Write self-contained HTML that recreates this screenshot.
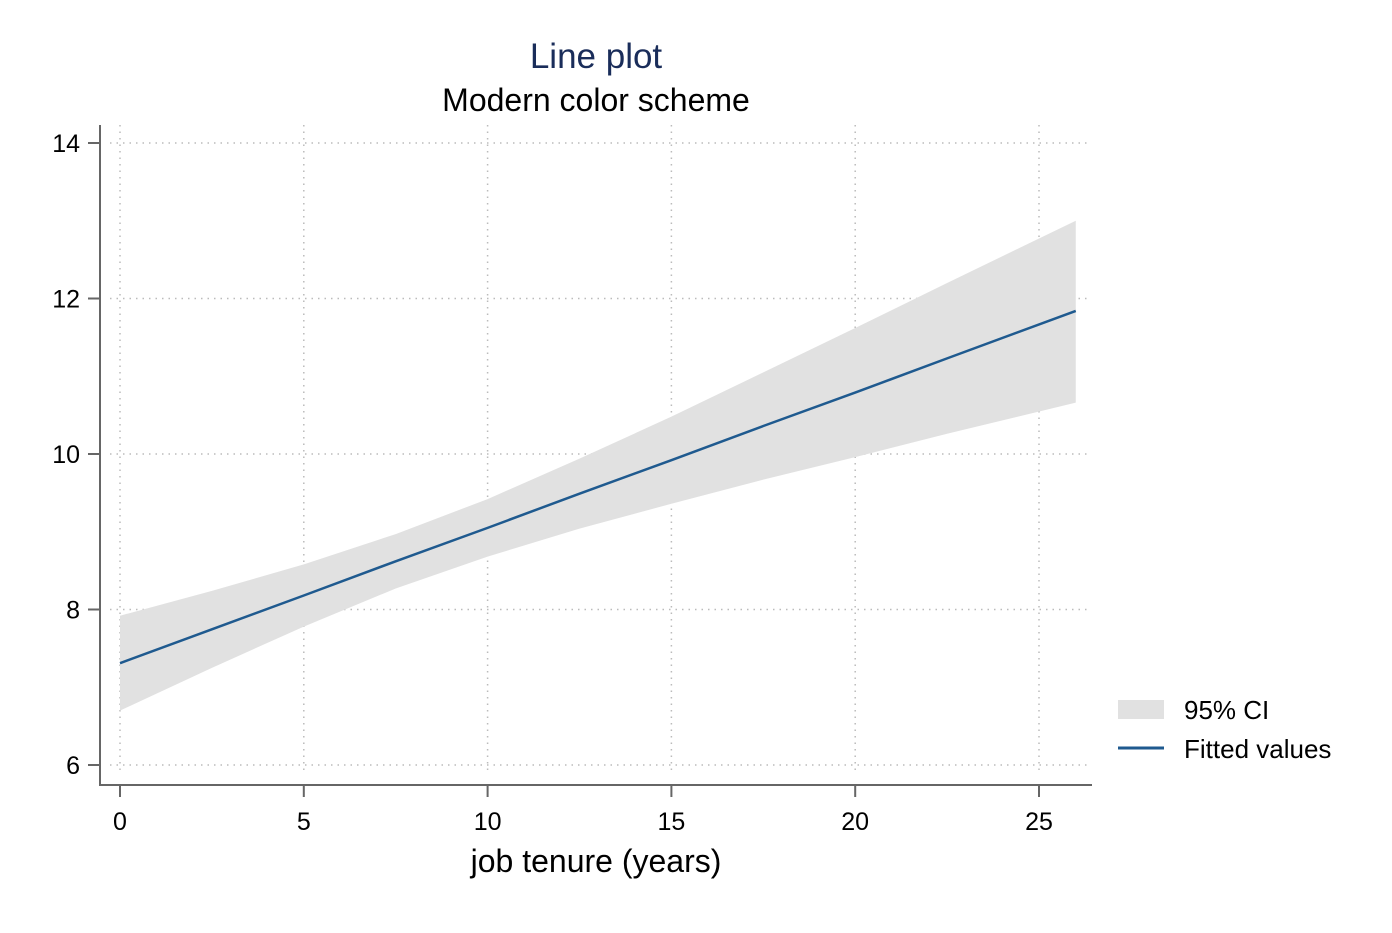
<!DOCTYPE html>
<html><head><meta charset="utf-8"><style>
body{margin:0;background:#fff;}
svg text{font-family:"Liberation Sans",Arial,sans-serif;}
</style></head><body>
<svg id="chart" width="1392" height="928" xmlns="http://www.w3.org/2000/svg">
<rect width="1392" height="928" fill="#fff"/>
<text x="596" y="68" text-anchor="middle" font-size="35" fill="#1a2d5a">Line plot</text>
<text x="596" y="111" text-anchor="middle" font-size="32" fill="#000">Modern color scheme</text>
<g id="grid"></g><g id="marks"></g><g id="axes"></g>
<g>
<rect x="1118" y="700" width="46" height="19" fill="#e1e1e1"/>
<text x="1184" y="719" font-size="26">95% CI</text>
<line x1="1118" y1="748" x2="1164" y2="748" stroke="#1f5a8f" stroke-width="3"/>
<text x="1184" y="758" font-size="26">Fitted values</text>
</g>
<text x="596" y="872" text-anchor="middle" font-size="32">job tenure (years)</text>
</svg>
<script>
const xs=[0,2.5,5,7.5,10,12.5,15,17.5,20,22.5,26];
const fitted=[7.31,7.745,8.18,8.62,9.05,9.49,9.92,10.36,10.79,11.23,11.84];
const upper=[7.92,8.24,8.58,8.97,9.42,9.94,10.48,11.05,11.62,12.20,13.0];
const lower=[6.70,7.25,7.78,8.27,8.68,9.04,9.36,9.67,9.96,10.26,10.66];
const xTicks=[0,5,10,15,20,25];
const yTicks=[6,8,10,12,14];
const X=v=>120+v*(1039-120)/25;
const Y=v=>765-(v-6)*(765-143)/8;
const NS="http://www.w3.org/2000/svg";
function mk(t,a,p){const e=document.createElementNS(NS,t);for(const k in a)e.setAttribute(k,a[k]);p.appendChild(e);return e;}
const grid=document.getElementById('grid'),marks=document.getElementById('marks'),axes=document.getElementById('axes');
yTicks.forEach(v=>{
 const g=mk('line',{x1:110,x2:1090,y1:Y(v),y2:Y(v),stroke:'#bbb','stroke-width':1.5,'stroke-dasharray':'1.5 5'},grid);
 
 
 const t=mk('line',{x1:88,x2:100,y1:Y(v),y2:Y(v),stroke:'#666','stroke-width':2},axes);
 
 
 const l=mk('text',{x:80,y:Y(v)+9,'text-anchor':'end','font-size':25},axes);l.textContent=v;
 
 
});
xTicks.forEach(v=>{
 const g=mk('line',{x1:X(v),x2:X(v),y1:125,y2:775,stroke:'#bbb','stroke-width':1.5,'stroke-dasharray':'1.5 5'},grid);
 
 
 const t=mk('line',{x1:X(v),x2:X(v),y1:785,y2:797,stroke:'#666','stroke-width':2},axes);
 
 
 const l=mk('text',{x:X(v),y:830,'text-anchor':'middle','font-size':25},axes);l.textContent=v;
 
 
});
let d='M'+xs.map((x,i)=>X(x)+','+Y(upper[i])).join('L');
for(let i=xs.length-1;i>=0;i--)d+='L'+X(xs[i])+','+Y(lower[i]);
const band=mk('path',{d:d+'Z',fill:'#e1e1e1'},marks);


const line=mk('path',{d:'M'+xs.map((x,i)=>X(x)+','+Y(fitted[i])).join('L'),fill:'none',stroke:'#1f5a8f','stroke-width':2.5},marks);


const ya=mk('line',{x1:100,x2:100,y1:125,y2:786,stroke:'#666','stroke-width':2},axes);


const xa=mk('line',{x1:99,x2:1092,y1:785,y2:785,stroke:'#666','stroke-width':2},axes);


</script>
</body></html>
